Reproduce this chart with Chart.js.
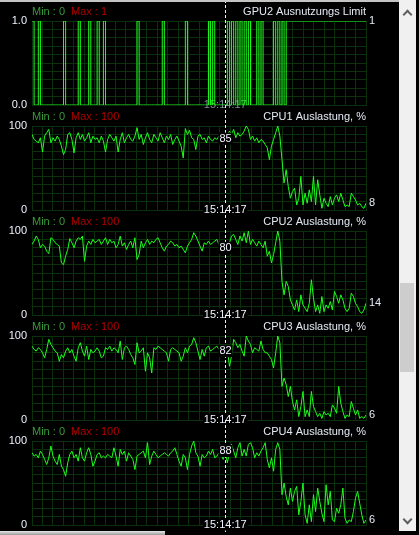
<!DOCTYPE html>
<html lang="de">
<head>
<meta charset="utf-8">
<title>Überwachung</title>
<script src="https://cdn.jsdelivr.net/npm/chart.js@4.4.1/dist/chart.umd.min.js"></script>
<style>
    html, body { margin: 0; padding: 0; background: #000; }
    body { position: relative; width: 419px; height: 535px; overflow: hidden; }
    .graph { position: absolute; left: 0; width: 399px; height: 112px; }
    .top-edge { position: absolute; left: 0; top: 0; width: 399px; height: 2px; background: #c4c4c4; }
    .vscroll { position: absolute; left: 399px; top: 0; width: 17px; height: 531px; background: #f0f0f0; }
    .vscroll .thumb { position: absolute; left: 1px; top: 283px; width: 14px; height: 89px; background: #cdcdcd; }
    .vscroll .arrow { position: absolute; left: 5px; width: 5px; height: 5px; border-left: 2px solid #606060; border-top: 2px solid #606060; }
    .vscroll .up { top: 11px; transform: rotate(45deg); }
    .vscroll .down { top: 516px; transform: rotate(225deg); }
    .hscroll { position: absolute; left: 0; top: 531px; width: 165px; height: 4px; background: linear-gradient(#e8e8e8, #9a9a9a); }
</style>
</head>
<body>
<canvas id="gpu2-limit" class="graph" style="top:0px" width="399" height="112"></canvas>
<canvas id="cpu1-load" class="graph" style="top:105px" width="399" height="112"></canvas>
<canvas id="cpu2-load" class="graph" style="top:210px" width="399" height="112"></canvas>
<canvas id="cpu3-load" class="graph" style="top:315px" width="399" height="112"></canvas>
<canvas id="cpu4-load" class="graph" style="top:420px" width="399" height="112"></canvas>
<div class="top-edge"></div>
<div class="vscroll">
    <div class="arrow up"></div>
    <div class="thumb"></div>
    <div class="arrow down"></div>
</div>
<div class="hscroll"></div>

<script>
var gpu2Limit = [
    1, 0, 0, 1, 0, 0, 0, 0, 0, 0, 0, 0, 0, 0, 0, 1, 0, 0, 0, 0,
    0, 0, 1, 0, 0, 0, 0, 1, 0, 0, 0, 1, 0, 0, 1, 0, 0, 0, 0, 0,
    0, 0, 0, 0, 0, 0, 0, 0, 0, 0, 1, 0, 0, 0, 0, 0, 0, 0, 0, 0,
    0, 0, 1, 0, 0, 0, 0, 0, 0, 0, 0, 0, 0, 1, 0, 0, 0, 0, 0, 0,
    0, 0, 0, 0, 1, 0, 1, 0, 0, 0, 0, 0, 0, 1, 0, 1, 0, 1, 0, 1,
    0, 1, 0, 1, 0, 0, 0, 1, 0, 1, 0, 0, 0, 0, 0, 1, 0, 1, 0, 1,
    0, 1, 1, 1, 1, 1, 1, 1, 1, 1, 1, 1, 1, 1, 1, 1, 1, 1, 1, 1,
    1, 1, 1, 1, 1, 1, 1, 1, 1, 1, 1, 1, 1, 1, 1, 1, 1, 1, 1, 1
];

var cpu1 = [
    90, 84, 82, 80, 86, 69, 88, 92, 96, 80,
    86, 82, 88, 84, 76, 66, 72, 90, 92, 84,
    68, 86, 92, 84, 90, 82, 86, 92, 80, 88,
    84, 86, 80, 88, 82, 69, 84, 90, 86, 82,
    88, 69, 84, 92, 80, 86, 90, 84, 82, 88,
    98, 84, 90, 78, 86, 92, 84, 80, 90, 86,
    82, 92, 86, 80, 88, 84, 90, 78, 84, 88,
    82, 76, 62, 97, 90, 95, 86, 84, 72, 88,
    90, 84, 86, 80, 88, 84, 82, 86, 84, 88,
    82, 78, 85, 88, 94, 90, 96, 86, 92, 88,
    90, 94, 100, 96, 84, 88, 82, 86, 80, 84,
    82, 78, 74, 60, 76, 84, 92, 100, 88, 60,
    32, 48, 28, 14, 22, 26, 6, 14, 40, 6,
    20, 8, 24, 10, 40, 6, 36, 18, 2, 14,
    8, 4, 16, 6, 14, 18, 10, 20, 12, 4,
    6, 4, 20, 16, 12, 6, 8, 4, 2, 8
];

var cpu2 = [
    84, 88, 94, 90, 80, 84, 82, 76, 73, 92,
    90, 86, 84, 82, 62, 60, 70, 78, 91, 86,
    80, 88, 92, 90, 94, 64, 82, 88, 84, 90,
    86, 88, 90, 84, 88, 92, 84, 90, 86, 88,
    80, 84, 94, 82, 86, 78, 84, 88, 80, 92,
    66, 72, 88, 80, 86, 90, 84, 88, 86, 90,
    92, 86, 80, 76, 82, 84, 88, 86, 82, 84,
    80, 82, 78, 74, 82, 86, 90, 98, 94, 88,
    82, 76, 86, 84, 88, 84, 86, 88, 90, 84,
    84, 78, 80, 82, 86, 94, 96, 90, 84, 94,
    88, 98, 86, 100, 84, 90, 86, 82, 88, 84,
    80, 88, 70, 76, 62, 72, 86, 100, 88, 40,
    24, 40, 34, 18, 12, 6, 18, 4, 24, 12,
    8, 4, 14, 42, 20, 4, 12, 2, 22, 4,
    12, 8, 16, 6, 28, 22, 14, 24, 18, 8,
    4, 8, 26, 22, 14, 10, 4, 2, 6, 14
];

var cpu3 = [
    88, 84, 82, 86, 84, 80, 74, 84, 96, 90,
    86, 82, 80, 70, 78, 74, 82, 86, 80, 84,
    76, 70, 86, 92, 82, 76, 88, 72, 84, 80,
    82, 86, 82, 74, 76, 86, 84, 88, 82, 86,
    84, 80, 94, 72, 86, 88, 84, 78, 74, 66,
    92, 80, 82, 86, 58, 80, 74, 56, 86, 84,
    88, 86, 84, 82, 80, 70, 84, 86, 84, 82,
    80, 70, 76, 86, 80, 88, 90, 98, 92, 82,
    72, 84, 76, 86, 88, 82, 84, 86, 88, 84,
    80, 86, 82, 84, 64, 76, 96, 92, 86, 90,
    82, 76, 100, 94, 90, 80, 86, 84, 82, 94,
    84, 80, 80, 76, 72, 62, 80, 100, 92, 40,
    50, 42, 28, 40, 22, 12, 24, 4, 16, 34,
    4, 12, 4, 34, 16, 10, 4, 8, 2, 10,
    6, 8, 4, 18, 14, 8, 40, 20, 10, 2,
    6, 4, 22, 14, 6, 12, 2, 4, 2, 6
];

var cpu4 = [
    86, 82, 84, 80, 88, 84, 78, 72, 80, 94,
    82, 76, 72, 84, 70, 66, 58, 74, 84, 88,
    80, 84, 76, 92, 80, 76, 86, 92, 84, 70,
    76, 84, 86, 80, 82, 80, 84, 82, 80, 92,
    82, 70, 90, 84, 88, 76, 86, 82, 78, 66,
    82, 84, 86, 88, 80, 98, 72, 82, 88, 84,
    80, 82, 84, 86, 84, 82, 86, 88, 92, 84,
    76, 70, 84, 80, 66, 84, 94, 100, 86, 82,
    70, 84, 80, 82, 88, 84, 90, 80, 82, 86,
    84, 78, 88, 74, 86, 96, 88, 80, 92, 98,
    82, 90, 82, 96, 98, 92, 80, 86, 82, 88,
    92, 98, 78, 68, 80, 64, 90, 98, 90, 36,
    50, 34, 24, 44, 28, 40, 46, 12, 28, 50,
    12, 2, 24, 4, 36, 16, 44, 28, 14, 4,
    48, 24, 40, 6, 4, 20, 14, 24, 44, 8,
    2, 6, 4, 16, 32, 40, 26, 12, 2, 6
];

var cursorAt = 92;          // sample under the dashed cursor
var cursorTime = '15:14:17';

(function () {
    "use strict";

    var FONT = '11px "Liberation Sans", Arial, sans-serif';
    var GRID = '#0b300c';
    var samples = cpu1.map(function (v, i) { return i; });

    Chart.defaults.font.family = '"Liberation Sans", Arial, sans-serif';
    Chart.defaults.font.size = 11;

    // time stamp at the bottom of the graph, under the cursor
    function stamp(chart, boxed) {
        var ctx = chart.ctx;
        var cx = chart.scales.x.getPixelForValue(cursorAt);
        var y = chart.chartArea.bottom - 0.5;
        ctx.save();
        ctx.font = FONT;
        ctx.textAlign = 'center';
        ctx.textBaseline = 'middle';
        var w = ctx.measureText(cursorTime).width;
        if (boxed) {
            ctx.fillStyle = '#000';
            ctx.fillRect(cx - w / 2 - 1, y - 6, w + 2, 12);
            ctx.fillStyle = '#f2f5ff';
        } else {
            ctx.fillStyle = '#7d8a99';
        }
        ctx.fillText(cursorTime, cx, y);
        ctx.restore();
    }

    var monitor = {
        id: 'monitor',
        beforeDatasetsDraw: function (chart, args, opts) {
            if (opts.dimTime) {
                stamp(chart, false);
            }
        },
        afterDatasetsDraw: function (chart, args, opts) {
            var ctx = chart.ctx;
            var area = chart.chartArea;
            var ys = chart.scales.y;
            var data = chart.data.datasets[0].data;
            var cx = Math.round(chart.scales.x.getPixelForValue(cursorAt)) + 0.5;
            var last = data[data.length - 1];

            ctx.save();
            ctx.font = FONT;
            ctx.textBaseline = 'middle';

            // header: range left, sensor name right
            ctx.textAlign = 'left';
            ctx.fillStyle = '#3a9a3a';
            ctx.fillText('Min : ' + ys.min, area.left, 12);
            ctx.fillStyle = '#b00000';
            ctx.fillText('Max : ' + ys.max, 71, 12);
            ctx.textAlign = 'right';
            ctx.fillStyle = '#e4eaf4';
            ctx.fillText(opts.title, area.right, 12);

            // latest reading next to the right edge
            ctx.textAlign = 'left';
            ctx.fillText(String(last), area.right + 3, ys.getPixelForValue(last));

            // dashed cursor
            ctx.strokeStyle = '#ffff80';
            ctx.lineWidth = 1;
            ctx.setLineDash([3, 2]);
            ctx.beginPath();
            ctx.moveTo(cx, 0);
            ctx.lineTo(cx, opts.lastPanel ? chart.height : 105);
            ctx.stroke();
            ctx.setLineDash([]);

            if (opts.readout) {
                var v = data[cursorAt];
                var vy = ys.getPixelForValue(v);
                var w = ctx.measureText(String(v)).width;
                ctx.fillStyle = '#000';
                ctx.fillRect(cx - w / 2 - 1, vy - 6, w + 2, 12);
                ctx.fillStyle = '#f2f5ff';
                ctx.textAlign = 'center';
                ctx.fillText(String(v), cx, vy);
            }
            ctx.restore();

            if (!opts.dimTime) {
                stamp(chart, true);
            }
        }
    };

    function monitorGraph(canvasId, title, values, yMax, extra) {
        var ctx = document.getElementById(canvasId).getContext('2d');
        return new Chart(ctx, {
            type: 'line',
            data: {
                labels: samples,
                datasets: [{
                    data: values,
                    borderColor: '#1cff1c',
                    borderWidth: 1,
                    pointRadius: 0,
                    tension: 0,
                    stepped: extra.stepped || false
                }]
            },
            options: {
                responsive: false,
                animation: false,
                devicePixelRatio: 1,
                layout: {
                    autoPadding: false,
                    padding: { left: 0, top: 21, right: 33, bottom: 7 }
                },
                plugins: {
                    legend: { display: false },
                    tooltip: { enabled: false },
                    monitor: {
                        title: title,
                        readout: !!extra.readout,
                        dimTime: !!extra.dimTime,
                        lastPanel: !!extra.lastPanel
                    }
                },
                scales: {
                    x: {
                        type: 'linear',
                        min: 0,
                        max: samples.length - 1,
                        ticks: { display: false, count: 33 },
                        grid: { color: GRID, drawTicks: false },
                        border: { color: GRID }
                    },
                    y: {
                        min: 0,
                        max: yMax,
                        ticks: {
                            count: 11,
                            autoSkip: false,
                            padding: 5,
                            color: '#eef2ff',
                            callback: function (v) {
                                if (v === 0 || v === yMax) {
                                    return yMax === 1 ? v.toFixed(1) : String(v);
                                }
                                return '';
                            }
                        },
                        grid: { color: GRID, drawTicks: false },
                        border: { color: GRID },
                        afterFit: function (scale) {
                            scale.width = 32;
                            scale.paddingTop = 0;
                            scale.paddingBottom = 0;
                        }
                    }
                }
            },
            plugins: [monitor]
        });
    }


    // GPU2 limit flag
    monitorGraph('gpu2-limit', 'GPU2 Ausnutzungs Limit', gpu2Limit, 1, { stepped: true, dimTime: true });

    // CPU load graphs
    monitorGraph('cpu1-load', 'CPU1 Auslastung, %', cpu1, 100, { readout: true });
    monitorGraph('cpu2-load', 'CPU2 Auslastung, %', cpu2, 100, { readout: true });
    monitorGraph('cpu3-load', 'CPU3 Auslastung, %', cpu3, 100, { readout: true });
    monitorGraph('cpu4-load', 'CPU4 Auslastung, %', cpu4, 100, { readout: true, lastPanel: true });

})();
</script>
</body>
</html>
